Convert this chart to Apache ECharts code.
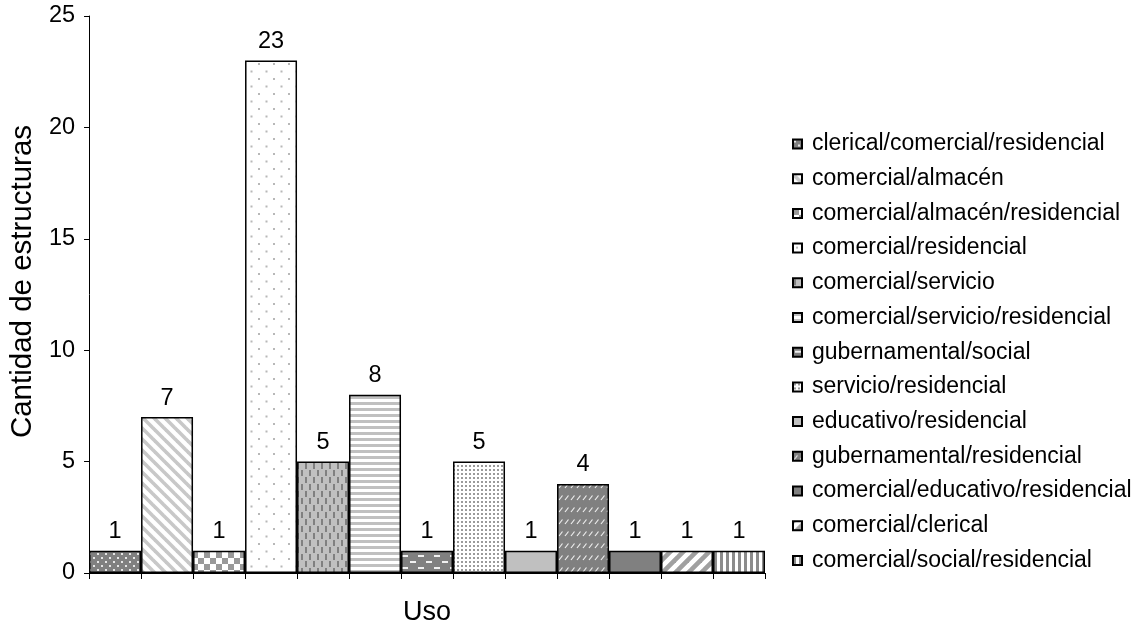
<!DOCTYPE html>
<html>
<head>
<meta charset="utf-8">
<script src="https://cdn.jsdelivr.net/npm/echarts@6/dist/echarts.min.js"></script>
<style>
  html, body { margin: 0; padding: 0; background: #fff; }
  #chart { width: 1141px; height: 632px; }
</style>
</head>
<body>
<div id="chart"></div>
<script>
// Uso de las estructuras (cantidad por uso)
const categories = [
  'clerical/comercial/residencial',
  'comercial/almacén',
  'comercial/almacén/residencial',
  'comercial/residencial',
  'comercial/servicio',
  'comercial/servicio/residencial',
  'gubernamental/social',
  'servicio/residencial',
  'educativo/residencial',
  'gubernamental/residencial',
  'comercial/educativo/residencial',
  'comercial/clerical',
  'comercial/social/residencial'
];
const values = [1, 7, 1, 23, 5, 8, 1, 5, 1, 4, 1, 1, 1];
const yMin = 0, yMax = 25, yStep = 5;

const FONT = 'Liberation Sans, Arial, sans-serif';
const DARK = '#808080', LIGHT = '#c0c0c0', WHITE = '#ffffff';

// Small repeating tiles used as bar fills
function tile(w, h, draw) {
  const c = document.createElement('canvas');
  c.width = w; c.height = h;
  const g = c.getContext('2d');
  draw(g, w, h);
  return { image: c, repeat: 'repeat' };
}
function fill(g, w, h, col) { g.fillStyle = col; g.fillRect(0, 0, w, h); }
function diag(g, n, col, lw, dir) {
  g.strokeStyle = col; g.lineWidth = lw; g.lineCap = 'butt';
  for (let k = -2; k <= 2; k++) {
    g.beginPath();
    if (dir > 0) { g.moveTo(k * n - n, -n); g.lineTo(k * n + 2 * n, 2 * n); }
    else { g.moveTo(k * n + 2 * n, -n); g.lineTo(k * n - n, 2 * n); }
    g.stroke();
  }
}

const fills = [
  // white dots on dark grey
  tile(8, 8, (g, w, h) => { fill(g, w, h, DARK); g.fillStyle = '#e6e6e6'; g.fillRect(1, 1, 2, 2); g.fillRect(5, 5, 2, 2); }),
  // wide descending diagonal stripes
  tile(11, 11, (g, w, h) => { fill(g, w, h, WHITE); diag(g, 11, '#c8c8c8', 3.6, 1); }),
  // checkerboard
  tile(12, 12, (g, w, h) => { fill(g, w, h, WHITE); g.fillStyle = '#999999'; g.fillRect(0, 0, 6, 6); g.fillRect(6, 6, 6, 6); }),
  // sparse grey dots
  tile(15, 15, (g, w, h) => { fill(g, w, h, WHITE); g.fillStyle = '#b8b8b8'; g.fillRect(3, 3, 2, 2); g.fillRect(10.5, 10.5, 2, 2); }),
  // dark vertical dashes on light grey
  tile(8, 14, (g, w, h) => { fill(g, w, h, LIGHT); g.fillStyle = DARK; g.fillRect(1, 1, 2, 6); g.fillRect(5, 8, 2, 6); }),
  // horizontal stripes
  tile(4, 6, (g, w, h) => { fill(g, w, h, WHITE); g.fillStyle = LIGHT; g.fillRect(0, 0, 4, 3); }),
  // white horizontal dashes on dark grey
  tile(16, 12, (g, w, h) => { fill(g, w, h, DARK); g.fillStyle = '#f0f0f0'; g.fillRect(2, 3, 6, 2); g.fillRect(10, 9, 6, 2); }),
  // dense small dots
  tile(4, 4, (g, w, h) => { fill(g, w, h, WHITE); g.fillStyle = '#9a9a9a'; g.fillRect(1, 1, 2, 2); }),
  // solid light grey
  LIGHT,
  // small white slashes on dark grey
  tile(6, 12, (g, w, h) => {
    fill(g, w, h, DARK); g.strokeStyle = '#eeeeee'; g.lineWidth = 1.2;
    g.beginPath(); g.moveTo(1, 8); g.lineTo(4.5, 3.5); g.stroke();
  }),
  // solid dark grey
  DARK,
  // wide ascending diagonal stripes
  tile(13, 13, (g, w, h) => { fill(g, w, h, WHITE); diag(g, 13, '#a0a0a0', 4.6, -1); }),
  // vertical stripes
  tile(6, 4, (g, w, h) => { fill(g, w, h, WHITE); g.fillStyle = '#8c8c8c'; g.fillRect(0, 0, 3, 4); })
];

const series = categories.map((name, i) => ({
  name: name,
  type: 'bar',
  stack: 'uso',
  barWidth: '100%',
  data: categories.map((c, j) => (j === i ? values[i] : '-')),
  itemStyle: { color: fills[i], borderColor: '#000', borderWidth: 1.5 },
  label: {
    show: true, position: 'top', distance: 7,
    color: '#000', fontFamily: FONT, fontSize: 23.5
  },
  emphasis: { disabled: true }
}));

const chart = echarts.init(document.getElementById('chart'), null, { renderer: 'canvas' });
chart.setOption({
  animation: false,
  backgroundColor: '#fff',
  textStyle: { fontFamily: FONT, color: '#000' },
  grid: { left: 89, top: 16, width: 676, height: 557, containLabel: false },
  legend: {
    orient: 'vertical',
    left: 787,
    top: 127,
    itemWidth: 9,
    itemHeight: 9,
    itemGap: 10.7,
    icon: 'rect',
    selectedMode: false,
    textStyle: { fontFamily: FONT, fontSize: 23, color: '#000', lineHeight: 24, padding: [0, 0, 0, 5] },
    data: categories
  },
  xAxis: {
    type: 'category',
    data: categories,
    name: 'Uso',
    nameLocation: 'middle',
    nameGap: 26,
    nameTextStyle: { fontFamily: FONT, fontSize: 27, color: '#000' },
    axisLine: { lineStyle: { color: '#000', width: 1 } },
    axisTick: { show: true, interval: 0, length: 6, lineStyle: { color: '#000' } },
    axisLabel: { show: false, interval: 0 },
    splitLine: { show: false }
  },
  yAxis: {
    type: 'value',
    min: yMin, max: yMax, interval: yStep,
    name: 'Cantidad de estructuras',
    nameLocation: 'middle',
    nameGap: 51,
    nameTextStyle: { fontFamily: FONT, fontSize: 29.5, color: '#000', padding: [0, 0, 0, 26] },
    axisLine: { show: true, lineStyle: { color: '#000', width: 1 } },
    axisTick: { show: true, length: 5, lineStyle: { color: '#000' } },
    axisLabel: { fontFamily: FONT, fontSize: 23.5, color: '#000', margin: 14 },
    splitLine: { show: false }
  },
  series: series
});
</script>
</body>
</html>
